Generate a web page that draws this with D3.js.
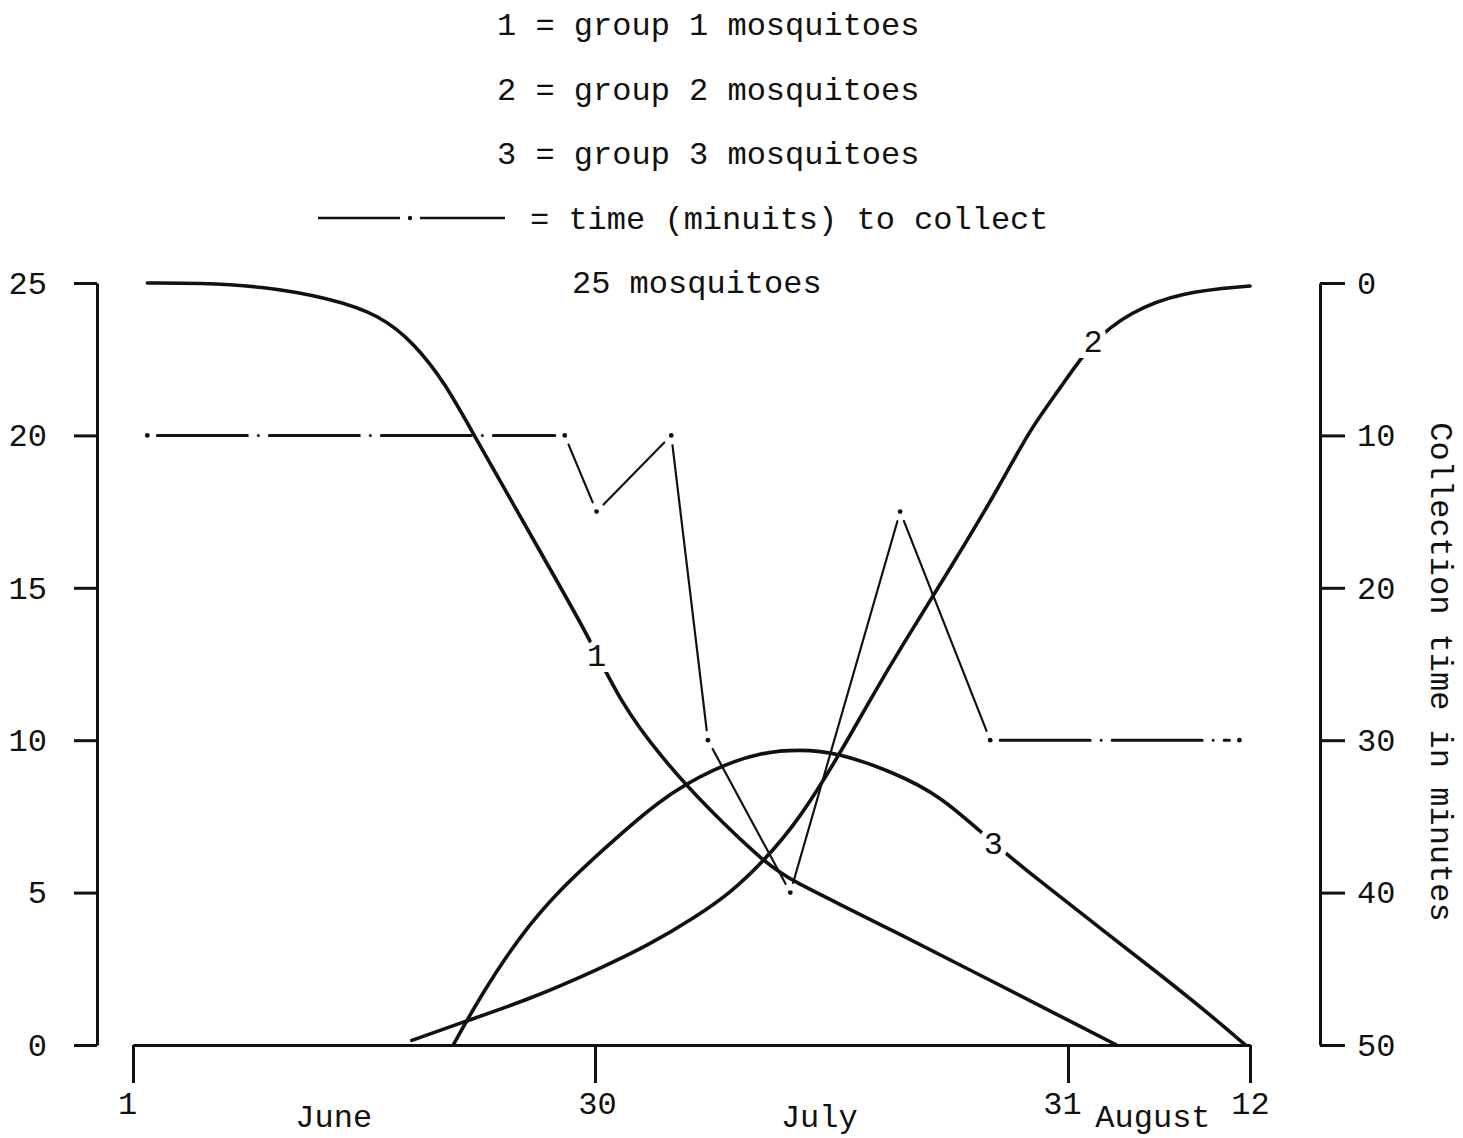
<!DOCTYPE html>
<html>
<head>
<meta charset="utf-8">
<script src="https://cdn.jsdelivr.net/npm/d3@7"></script>
<style>
  body { margin: 0; background: #fff; }
  text { font-family: "Liberation Mono", "DejaVu Sans Mono", monospace; fill: #111; }
</style>
</head>
<body>
<div id="chart"></div>
<script>
// days counted from June 1 (June 30 = 30, July 31 = 61, August 12 = 73)
X_TICKS = [1, 30, 61, 73]
X_TICK_LABELS = ['1', '30', '31', '12']
MONTHS = ['June', 'July', 'August']
MONTH_DAYS = [13.6, 44.7, 66.6]
LEFT_TICKS = [0, 5, 10, 15, 20, 25]
RIGHT_TICKS = [0, 10, 20, 30, 40, 50]

// [day, number of mosquitoes]
group1 = [[1.9, 25], [5.2, 25], [9, 24.9], [13.4, 24.5], [16.5, 23.95], [18.7, 23], [20.6, 21.7],
          [22.2, 20.2], [24.7, 17.9], [27.2, 15.6], [29.7, 13.3], [31.6, 11.3], [34.3, 9.45],
          [37.5, 7.7], [41.1, 6.0], [42.8, 5.4], [47.8, 4.2], [64.2, 0]]
group2 = [[18.5, 0.15], [21.7, 0.75], [25.9, 1.5], [30.3, 2.5], [33.6, 3.3], [36.6, 4.2], [38.9, 5.0],
          [41.0, 6.0], [43.4, 7.4], [46.1, 9.6], [48.0, 11.3], [50, 13.0], [53.3, 15.65], [56.6, 18.4],
          [58.5, 20.2], [60.5, 21.55], [62.6, 23.1], [65.1, 24.05], [68.4, 24.7], [73, 24.9]]
group3 = [[21.1, 0], [22.8, 1.6], [25.3, 3.6], [27.8, 5.1], [30.3, 6.3], [34.3, 8.1], [37.9, 9.1],
          [40.8, 9.6], [43.4, 9.7], [45.9, 9.6], [49.5, 8.96], [52.6, 8.2], [56.0, 6.66], [59.1, 5.4],
          [63.1, 3.84], [67.1, 2.3], [70.4, 0.98], [72.7, 0]]
// [day, minutes to collect 25 mosquitoes]
collectTime = [[1.9, 10], [28.1, 10], [30.1, 15], [35, 10], [37.4, 30], [42.8, 40], [50, 15], [55.9, 30], [72.3, 30]]
collectDashDot = [true, false, false, false, false, false, false, true]

// curve labels sit on the lines: [day, value]
CURVE_LABELS = [{text: '1', at: [30.1, 12.8]}, {text: '2', at: [62.65, 23.1]}, {text: '3', at: [56.1, 6.66]}]

LEGEND_LINES = ['1 = group 1 mosquitoes', '2 = group 2 mosquitoes', '3 = group 3 mosquitoes',
                '= time (minuits) to collect', '25 mosquitoes']

var width = 1463, height = 1138;

var svg = d3.select("#chart")
    .append("svg")
    .attr("width", width)
    .attr("height", height);

var x = d3.scaleLinear()
    .domain(X_TICKS)
    .range([133, 595, 1068, 1250]);
var yLeft = d3.scaleLinear().domain([0, 25]).range([1045, 283]);
var yRight = d3.scaleLinear().domain([0, 50]).range([283, 1045]);

// axes
var xAxis = svg.append("g")
    .attr("transform", "translate(0,1045)")
    .call(d3.axisBottom(x).tickValues(X_TICKS)
        .tickFormat(function(d, i) { return X_TICK_LABELS[i]; })
        .tickSize(38).tickSizeOuter(0).tickPadding(8));

var leftAxis = svg.append("g")
    .attr("transform", "translate(97,0)")
    .call(d3.axisLeft(yLeft).tickValues(LEFT_TICKS).tickSize(23).tickSizeOuter(0).tickPadding(27));

var rightAxis = svg.append("g")
    .attr("transform", "translate(1320,0)")
    .call(d3.axisRight(yRight).tickValues(RIGHT_TICKS).tickSize(25).tickSizeOuter(0).tickPadding(12));

svg.selectAll(".domain, .tick line")
    .attr("stroke", "#111")
    .attr("stroke-width", 3);
svg.selectAll(".tick text")
    .style("font-size", "32px")
    .style("font-family", "'Liberation Mono', monospace")
    .attr("fill", "#111");
xAxis.selectAll(".tick text").attr("dx", function(d, i) { return [-6, 2, -6, 0][i]; });

svg.append("g").selectAll("text")
    .data(MONTHS)
    .enter()
    .append("text")
    .attr("x", function(d, i) { return x(MONTH_DAYS[i]); })
    .attr("y", 1127)
    .attr("text-anchor", "middle")
    .style("font-size", "32px")
    .text(function(d) { return d; });

svg.append("text")
    .attr("transform", "translate(1431,672) rotate(90)")
    .attr("text-anchor", "middle")
    .style("font-size", "32px")
    .text("Collection time in minutes");

// group curves
var line = d3.line()
    .x(function(d) { return x(d[0]); })
    .y(function(d) { return yLeft(d[1]); })
    .curve(d3.curveBasis);

svg.append("g").selectAll("path")
    .data([group1, group2, group3])
    .enter()
    .append("path")
    .attr("d", line)
    .attr("fill", "none")
    .attr("stroke", "#111")
    .attr("stroke-width", 3.6)
    .attr("stroke-linecap", "round");

// collection time: segments with small gaps and dots at the corners
var tPts = collectTime.map(function(d) { return [x(d[0]), yRight(d[1])]; });
var segs = [];
for (let i = 0; i < tPts.length - 1; i++) {
    const a = tPts[i], b = tPts[i + 1];
    const len = Math.hypot(b[0] - a[0], b[1] - a[1]);
    const ux = (b[0] - a[0]) / len, uy = (b[1] - a[1]) / len;
    const gap = 10;
    segs.push({x1: a[0] + ux * gap, y1: a[1] + uy * gap, x2: b[0] - ux * gap, y2: b[1] - uy * gap, dd: collectDashDot[i]});
}
var tg = svg.append("g");
tg.selectAll("line")
    .data(segs)
    .enter()
    .append("line")
    .attr("x1", function(d) { return d.x1; })
    .attr("y1", function(d) { return d.y1; })
    .attr("x2", function(d) { return d.x2; })
    .attr("y2", function(d) { return d.y2; })
    .attr("stroke", "#111")
    .attr("stroke-width", function(d) { return d.dd ? 3 : 2.2; })
    .attr("stroke-linecap", "round")
    .attr("stroke-dasharray", function(d) { return d.dd ? "90 11 0 11" : null; });
tg.selectAll("circle")
    .data(tPts)
    .enter()
    .append("circle")
    .attr("cx", function(d) { return d[0]; })
    .attr("cy", function(d) { return d[1]; })
    .attr("r", 2.4)
    .attr("fill", "#111");

// labels on the curves, with a white halo that breaks the line
svg.append("g").selectAll("text")
    .data(CURVE_LABELS)
    .enter()
    .append("text")
    .attr("x", function(d) { return x(d.at[0]); })
    .attr("y", function(d) { return yLeft(d.at[1]); })
    .attr("dy", "0.36em")
    .attr("text-anchor", "middle")
    .style("font-size", "32px")
    .style("paint-order", "stroke")
    .attr("stroke", "#fff")
    .attr("stroke-width", 12)
    .text(function(d) { return d.text; });

// legend at the top
var legendX = [497, 497, 497, 530, 572];
svg.append("g").selectAll("text")
    .data(LEGEND_LINES)
    .enter()
    .append("text")
    .attr("x", function(d, i) { return legendX[i]; })
    .attr("y", function(d, i) { return 35 + i * 64.5; })
    .style("font-size", "32px")
    .text(function(d) { return d; });

var lg = svg.append("g").attr("stroke", "#111").attr("stroke-width", 2.5);
lg.append("line").attr("x1", 318).attr("x2", 400).attr("y1", 218).attr("y2", 218);
lg.append("line").attr("x1", 420).attr("x2", 505).attr("y1", 218).attr("y2", 218);
lg.append("circle").attr("cx", 410).attr("cy", 218).attr("r", 2.2).attr("fill", "#111").attr("stroke", "none");
</script>
</body>
</html>
